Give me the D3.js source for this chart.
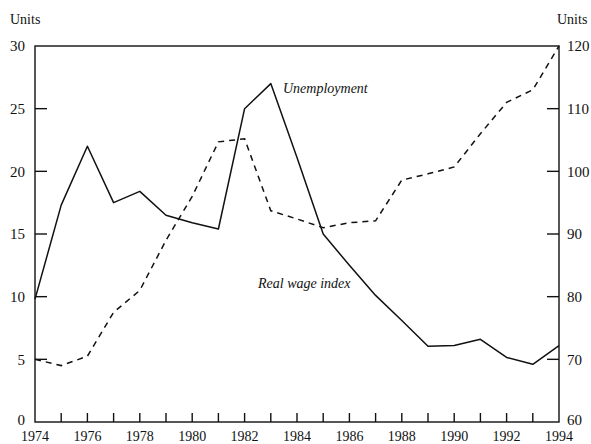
<!DOCTYPE html>
<html>
<head>
<meta charset="utf-8">
<script src="https://cdn.jsdelivr.net/npm/d3@7"></script>
<style>
  html, body { margin: 0; padding: 0; background: #fff; }
  svg { display: block; }
</style>
</head>
<body>
<svg id="chart" width="591" height="444"></svg>
<script>
// ---- Data ----
const years = [1974, 1975, 1976, 1977, 1978, 1979, 1980, 1981, 1982, 1983, 1984,
               1985, 1986, 1987, 1988, 1989, 1990, 1991, 1992, 1993, 1994];
const unemployment = [9.8, 17.3, 22, 17.5, 18.4, 16.5, 15.9, 15.4, 25, 27, 21.1,
                      15.0, 12.5, 10.1, 8.1, 6.05, 6.1, 6.6, 5.15, 4.6, 6.1];
const realWage = [70, 69, 70.5, 77.5, 81, 89, 96, 104.7, 105.2, 93.7, 92.4,
                  91, 91.8, 92.1, 98.6, 99.6, 100.7, 106, 111, 113, 120];
const leftTicks = [0, 5, 10, 15, 20, 25, 30];
const rightTicks = [60, 70, 80, 90, 100, 110, 120];
const yearLabels = [1974, 1976, 1978, 1980, 1982, 1984, 1986, 1988, 1990, 1992, 1994];
const axisTitle = "Units";
const seriesLabels = ["Unemployment", "Real wage index"];

// ---- Layout ----
const FONT = "'Liberation Serif', 'Times New Roman', Times, 'DejaVu Serif', serif";
const svg = d3.select("#chart").attr("font-family", FONT);
const x0 = 35, x1 = 559, yTop = 46, yBot = 422;

const x = d3.scaleLinear().domain([1974, 1994]).range([x0, x1]);
const yL = d3.scaleLinear().domain([0, 30]).range([yBot, yTop]);
const yR = d3.scaleLinear().domain([60, 120]).range([yBot, yTop]);

const ink = "#111";

// Frame
svg.append("rect")
  .attr("x", x0).attr("y", yTop)
  .attr("width", x1 - x0).attr("height", yBot - yTop)
  .attr("fill", "none").attr("stroke", ink).attr("stroke-width", 1.4);

// Left axis ticks (inward) and labels
const gL = svg.append("g");
gL.selectAll("line").data(leftTicks.filter(d => d !== 0 && d !== 30)).join("line")
  .attr("x1", x0).attr("x2", x0 + 12)
  .attr("y1", d => yL(d)).attr("y2", d => yL(d))
  .attr("stroke", ink).attr("stroke-width", 1.4);
gL.selectAll("text").data(leftTicks).join("text")
  .attr("x", 25).attr("y", d => yL(d))
  .attr("dy", d => d === 0 ? "0.2em" : "0.35em").attr("text-anchor", "end")
  .attr("font-family", FONT).attr("font-size", 15).attr("fill", ink)
  .text(d => d);

// Right axis ticks (inward) and labels
const gR = svg.append("g");
gR.selectAll("line").data(rightTicks.filter(d => d !== 60 && d !== 120)).join("line")
  .attr("x1", x1 - 12).attr("x2", x1)
  .attr("y1", d => yR(d)).attr("y2", d => yR(d))
  .attr("stroke", ink).attr("stroke-width", 1.4);
gR.selectAll("text").data(rightTicks).join("text")
  .attr("x", 567).attr("y", d => yR(d))
  .attr("dy", d => d === 60 ? "0.2em" : "0.35em").attr("text-anchor", "start")
  .attr("font-family", FONT).attr("font-size", 15).attr("fill", ink)
  .text(d => d);

// Bottom axis ticks (upward, every year) and labels
const gB = svg.append("g");
gB.selectAll("line").data(years.slice(1, -1)).join("line")
  .attr("x1", d => x(d)).attr("x2", d => x(d))
  .attr("y1", yBot).attr("y2", yBot - 9)
  .attr("stroke", ink).attr("stroke-width", 1.4);
gB.selectAll("text").data(yearLabels).join("text")
  .attr("x", d => x(d)).attr("y", 441)
  .attr("text-anchor", "middle")
  .attr("font-family", FONT).attr("font-size", 14).attr("fill", ink)
  .text(d => d);

// Axis titles
svg.append("text").attr("x", 10).attr("y", 24)
  .attr("font-family", FONT).attr("font-size", 14).attr("fill", ink)
  .text(axisTitle);
svg.append("text").attr("x", 557).attr("y", 24)
  .attr("font-family", FONT).attr("font-size", 14).attr("fill", ink)
  .text(axisTitle);

// Lines
const lineU = d3.line().x((d, i) => x(years[i])).y(d => yL(d));
const lineW = d3.line().x((d, i) => x(years[i])).y(d => yR(d));

svg.append("path").datum(realWage)
  .attr("d", lineW).attr("fill", "none")
  .attr("stroke", ink).attr("stroke-width", 1.5)
  .attr("stroke-dasharray", "6,5");

svg.append("path").datum(unemployment)
  .attr("d", lineU).attr("fill", "none")
  .attr("stroke", ink).attr("stroke-width", 1.5)
  .attr("stroke-linejoin", "round");

// Series labels
svg.append("text").attr("x", 283).attr("y", 93)
  .attr("font-family", FONT).attr("font-size", 14).attr("font-style", "italic").attr("fill", ink)
  .text(seriesLabels[0]);
svg.append("text").attr("x", 258).attr("y", 288)
  .attr("font-family", FONT).attr("font-size", 14).attr("font-style", "italic").attr("fill", ink)
  .text(seriesLabels[1]);
</script>
</body>
</html>
